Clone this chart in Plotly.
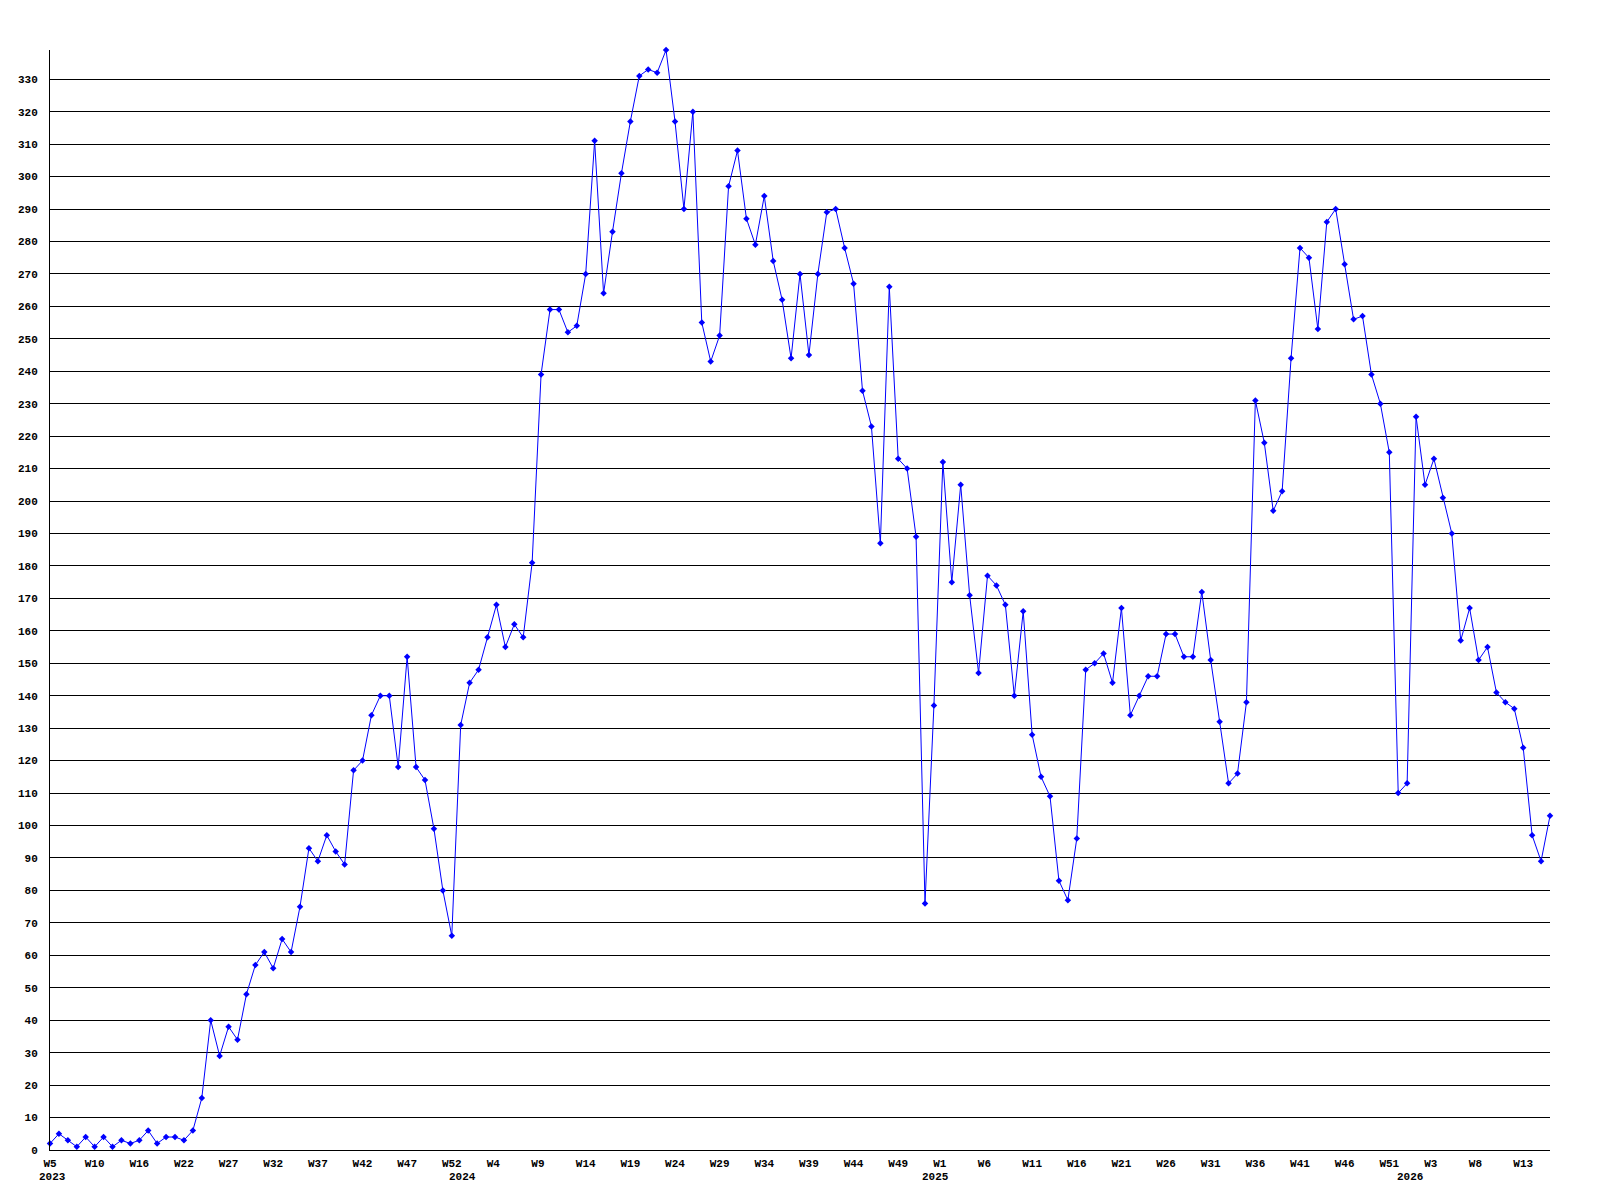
import plotly.graph_objects as go

# Weekly values, 2023 W5 onwards
values = [
    2, 5, 3, 1, 4, 1, 4, 1, 3, 2, 3, 6, 2, 4, 4, 3, 6, 16, 40, 29, 38, 34, 48, 57, 61, 56, 65, 61, 75, 93, 89,
    97, 92, 88, 117, 120, 134, 140, 140, 118, 152, 118, 114, 99, 80, 66, 131, 144, 148, 158, 168, 155, 162, 158, 181,
    239, 259, 259, 252, 254, 270, 311, 264, 283, 301, 317, 331, 333, 332, 339, 317, 290, 320, 255, 243, 251, 297, 308,
    287, 279, 294, 274, 262, 244, 270, 245, 270, 289, 290, 278, 267, 234, 223, 187, 266, 213, 210, 189, 76, 137, 212, 175, 205,
    171, 147, 177, 174, 168, 140, 166, 128, 115, 109, 83, 77, 96, 148, 150,
    153, 144, 167, 134, 140, 146, 146, 159, 159, 152, 152, 172, 151, 132, 113, 116, 138,
    231, 218, 197, 203, 244, 278, 275, 253, 286, 290, 273, 256, 257, 239, 230, 215, 110,
    113, 226, 205, 213, 201, 190, 157, 167, 151, 155, 141, 138, 136, 124, 97, 89, 103,
]

tick_labels = ["W5", "W10", "W16", "W22", "W27", "W32", "W37", "W42", "W47", "W52",
               "W4", "W9", "W14", "W19", "W24", "W29", "W34", "W39", "W44", "W49",
               "W1", "W6", "W11", "W16", "W21", "W26", "W31", "W36", "W41", "W46",
               "W51", "W3", "W8", "W13"]
tick_step = 5

year_labels = ["2023", "2024", "2025", "2026"]
year_pos = [0.3, 46.2, 99.2, 152.3]

x = list(range(len(values)))
# labels in the original are left-aligned; shorter labels sit slightly left of the tick
tick_pos = [i * tick_step - (0.35 if (len(t) == 2 and i > 0) else 0.0)
            for i, t in enumerate(tick_labels)]

FONT = dict(family="Liberation Mono", size=11, color="black", weight="bold")

fig = go.Figure(
    go.Scatter(
        x=x, y=values, mode="lines+markers",
        line=dict(color="#0000ff", width=1),
        marker=dict(symbol="diamond", size=5, color="#0000ff"),
        cliponaxis=False,
        hoverinfo="x+y",
    )
)

fig.update_layout(
    width=1600, height=1200,
    margin=dict(l=50, r=50, t=50, b=50),
    paper_bgcolor="white", plot_bgcolor="white",
    showlegend=False,
    font=FONT,
)

fig.update_xaxes(
    range=[0, len(values) - 1],
    tickmode="array", tickvals=tick_pos, ticktext=tick_labels,
    showgrid=False, zeroline=False,
    showline=True, linecolor="black", linewidth=1,
    ticks="", tickfont=FONT, ticklabelstandoff=3,
)

fig.update_yaxes(
    range=[0, 339],
    tick0=0, dtick=10,
    showgrid=True, gridcolor="black", gridwidth=1,
    zeroline=False,
    showline=True, linecolor="black", linewidth=1,
    ticks="", tickfont=FONT, ticklabelstandoff=9,
)

for lab, pos in zip(year_labels, year_pos):
    fig.add_annotation(
        x=pos, xref="x", y=-27 / 1100, yref="paper",
        text=lab, showarrow=False, xanchor="center", yanchor="middle",
        font=FONT,
    )

fig.write_html("out.html", config={"displayModeBar": False},
               post_script="document.body.style.margin='0px';")
